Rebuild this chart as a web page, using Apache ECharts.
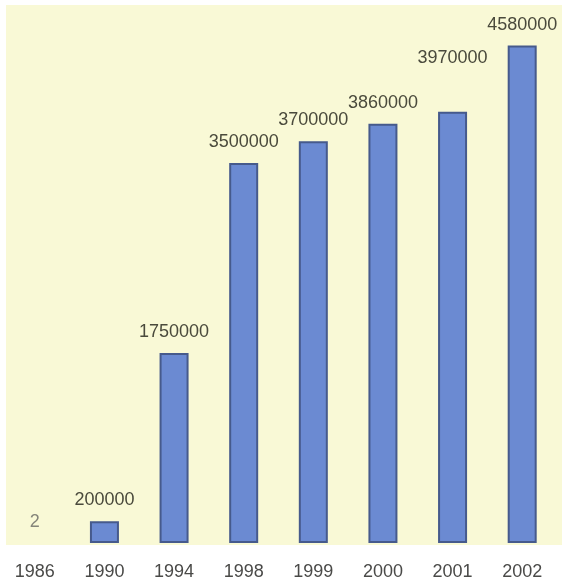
<!DOCTYPE html>
<html>
<head>
<meta charset="utf-8">
<script src="https://cdn.jsdelivr.net/npm/echarts@6/dist/echarts.min.js"></script>
<style>
  html, body { margin: 0; padding: 0; background: #ffffff; }
  #chart { width: 562px; height: 588px; }
</style>
</head>
<body>
<div id="chart"></div>
<script>
// Years along the bottom and the count recorded for each year
const years = ['1986', '1990', '1994', '1998', '1999', '2000', '2001', '2002'];
const counts = [2, 200000, 1750000, 3500000, 3700000, 3860000, 3970000, 4580000];

const chart = echarts.init(document.getElementById('chart'));

const barData = counts.map((v, i) => {
  if (i === 0) {
    // The 1986 value is too small to show a bar; only its label is visible
    return { value: v, itemStyle: { borderWidth: 0 }, label: { color: '#85857a' } };
  }
  if (i === 6) {
    // Lift the 2001 label clear of its neighbours
    return { value: v, label: { distance: 45 } };
  }
  return v;
});

chart.setOption({
  backgroundColor: '#ffffff',
  animation: false,
  graphic: [{
    type: 'rect',
    z: -10,
    silent: true,
    shape: { x: 6, y: 5, width: 556, height: 540 },
    style: { fill: '#f9f9d6' }
  }],
  grid: { left: 0, right: 5, top: 0, bottom: 45 },
  xAxis: {
    type: 'category',
    data: years,
    axisLine: { show: false },
    axisTick: { show: false },
    axisLabel: {
      margin: 20,
      fontFamily: "'Liberation Sans', Arial, sans-serif",
      fontSize: 18,
      color: '#4a4a48'
    }
  },
  yAxis: {
    type: 'value',
    min: 0,
    max: 5000000,
    show: false,
    splitLine: { show: false }
  },
  series: [{
    type: 'bar',
    data: barData,
    barWidth: 29,
    itemStyle: {
      color: '#6b8ad2',
      borderColor: '#465a8c',
      borderWidth: 2
    },
    label: {
      show: true,
      position: 'top',
      distance: 12,
      fontFamily: "'Liberation Sans', Arial, sans-serif",
      fontSize: 18,
      color: '#4a4a3c'
    }
  }]
});
</script>
</body>
</html>
